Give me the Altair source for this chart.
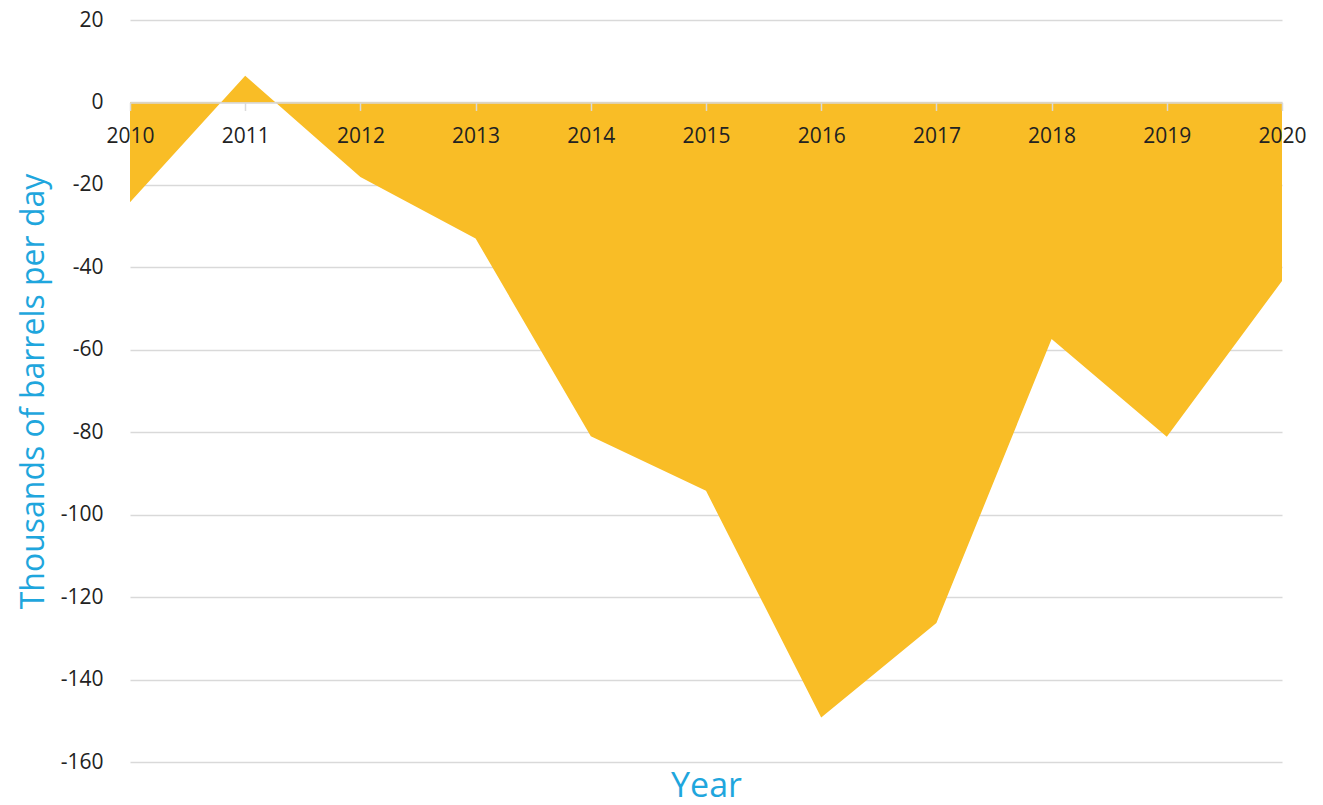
import altair as alt
import pandas as pd

years = [2010, 2011, 2012, 2013, 2014, 2015, 2016, 2017, 2018, 2019, 2020]
values = [-24.2, 6.5, -18.1, -33.0, -81.0, -94.2, -149.2, -126.3, -57.4, -81.1, -43.3]
y_ticks = [-160, -140, -120, -100, -80, -60, -40, -20, 0, 20]

df = pd.DataFrame({"year": years, "value": values})

BLUE = "#1FA6DD"
FONT = "Open Sans"
W, H = 1152, 742
zero_px = H * 20 / 180  # distance of y=0 from top

chart = alt.Chart(df).mark_area(color="#F9BD26", opacity=1).encode(
    x=alt.X(
        "year:Q",
        scale=alt.Scale(domain=[2010, 2020], nice=False, zero=False),
        axis=alt.Axis(
            title="Year",
            values=years,
            format="d",
            grid=False,
            offset=-(H - zero_px),
            domainColor="#d9d9d9",
            domainWidth=1.5,
            tickColor="#d9d9d9",
            tickWidth=1.5,
            tickSize=8,
            labelFont=FONT,
            labelFontSize=21,
            labelColor="#222222",
            labelPadding=15,
            labelFlush=False,
            titleFont=FONT,
            titleFontSize=34,
            titleFontWeight="normal",
            titleColor=BLUE,
            titleY=694,
            titleBaseline="alphabetic",
            zindex=1,
        ),
    ),
    y=alt.Y(
        "value:Q",
        scale=alt.Scale(domain=[-160, 20], nice=False),
        axis=alt.Axis(
            title="Thousands of barrels per day",
            values=y_ticks,
            labelExpr="'' + datum.value",
            domain=False,
            ticks=False,
            grid=True,
            gridColor="#d9d9d9",
            gridWidth=1.5,
            labelFont=FONT,
            labelFontSize=21,
            labelColor="#222222",
            labelPadding=27,
            titleFont=FONT,
            titleFontSize=32,
            titleFontWeight="normal",
            titleColor=BLUE,
            titleX=-87,
            titleY=H / 2,
            titleAngle=-90,
            titleAlign="center",
            titleBaseline="alphabetic",
            zindex=0,
        ),
    ),
    y2=alt.datum(0),
).properties(
    width=W,
    height=H,
    autosize=alt.AutoSizeParams(type="none"),
    padding={"left": 122, "top": 12, "right": 33, "bottom": 35},
).configure_view(stroke=None)

chart.save("out.html", embed_options={"renderer": "svg", "actions": False})
